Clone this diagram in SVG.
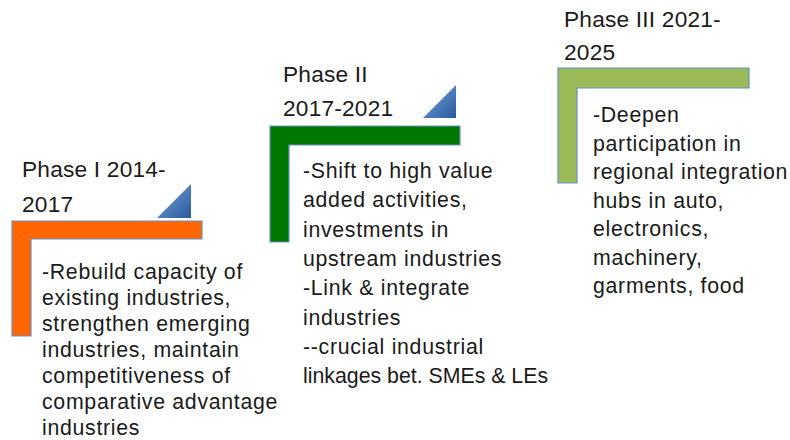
<svg xmlns="http://www.w3.org/2000/svg" width="790" height="440" viewBox="0 0 790 440">
<style>
.bar{stroke:#6a8fc8;stroke-width:1.2}
.tri{fill:url(#triGrad)}
.title{font-family:"Liberation Sans",Arial,sans-serif;font-size:22.7px;letter-spacing:0.2px;fill:#1a1a1a}
.body{font-family:"Liberation Sans",Arial,sans-serif;font-size:21.3px;letter-spacing:0.7px;fill:#1a1a1a}
</style>
<defs>
<linearGradient id="triGrad" x1="0" y1="0" x2="1" y2="1">
<stop offset="0" stop-color="#7aa6e0"/>
<stop offset="1" stop-color="#2a5a9c"/>
</linearGradient>
</defs>
<rect width="790" height="440" fill="#ffffff"/>
<g id="phase1">
<path class="bar" fill="#ff6600" d="M12,221 H202 V239 H31 V336 H12 Z"/>
<polygon class="tri" points="157,218 191,218 191,184"/>
<text class="title" x="22" y="177">Phase I 2014-</text>
<text class="title" x="22" y="212">2017</text>
<text class="body" x="42" y="279">-Rebuild capacity of</text>
<text class="body" x="42" y="305">existing industries,</text>
<text class="body" x="42" y="331">strengthen emerging</text>
<text class="body" x="42" y="357">industries, maintain</text>
<text class="body" x="42" y="383">competitiveness of</text>
<text class="body" x="42" y="409">comparative advantage</text>
<text class="body" x="42" y="435">industries</text>
</g>
<g id="phase2">
<path class="bar" fill="#007800" d="M270,126 H460 V145 H289 V242 H270 Z"/>
<polygon class="tri" points="423,118 456,118 456,85"/>
<text class="title" x="283" y="82">Phase II</text>
<text class="title" x="283" y="116">2017-2021</text>
<text class="body" x="303" y="178">-Shift to high value</text>
<text class="body" x="303" y="207.3">added activities,</text>
<text class="body" x="303" y="236.6">investments in</text>
<text class="body" x="303" y="265.9">upstream industries</text>
<text class="body" x="303" y="295.2">-Link &amp; integrate</text>
<text class="body" x="303" y="324.5">industries</text>
<text class="body" x="303" y="353.8">--crucial industrial</text>
<text class="body" x="303" y="383.1" style="letter-spacing:0px">linkages bet. SMEs &amp; LEs</text>
</g>
<g id="phase3">
<path class="bar" fill="#9bbb59" d="M558,68 H749 V88 H577 V183 H558 Z"/>
<text class="title" x="564" y="27">Phase III 2021-</text>
<text class="title" x="564" y="60">2025</text>
<text class="body" x="593" y="122">-Deepen</text>
<text class="body" x="593" y="150.5">participation in</text>
<text class="body" x="593" y="179">regional integration</text>
<text class="body" x="593" y="207.5">hubs in auto,</text>
<text class="body" x="593" y="236">electronics,</text>
<text class="body" x="593" y="264.5">machinery,</text>
<text class="body" x="593" y="293">garments, food</text>
</g>
</svg>
